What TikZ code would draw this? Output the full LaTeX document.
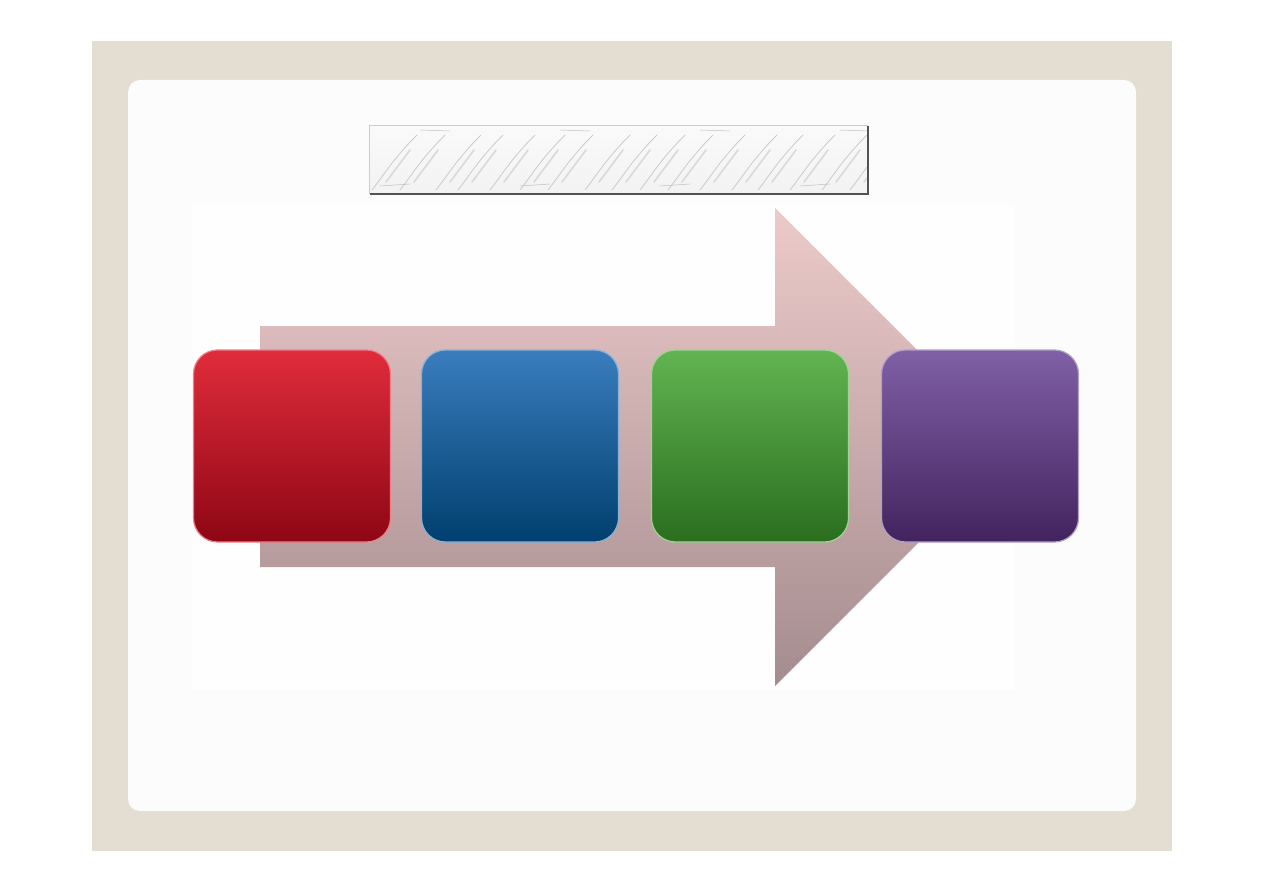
\documentclass[tikz,border=0pt]{standalone}
\usetikzlibrary{shadings}
\definecolor{beige}{HTML}{E4DDD2}
\definecolor{panel}{HTML}{FCFCFC}
\definecolor{region}{HTML}{FEFEFE}
\definecolor{arrtop}{HTML}{EDCACA}
\definecolor{arrbot}{HTML}{A48C8E}
\definecolor{rtop}{HTML}{E02C3C}
\definecolor{rbot}{HTML}{8E0614}
\definecolor{btop}{HTML}{3A7DBE}
\definecolor{bbot}{HTML}{003F6E}
\definecolor{gtop}{HTML}{62B452}
\definecolor{gbot}{HTML}{2A6E1E}
\definecolor{ptop}{HTML}{8060A6}
\definecolor{pbot}{HTML}{43235E}
\tikzset{
  x=1pt, y=-1pt,
  sq/.style={rectangle, rounded corners=24pt, minimum width=197pt, minimum height=192pt, inner sep=0pt, line width=1.2pt},
  vein/.style={gray!45, line width=0.7pt, line cap=round},
  vein2/.style={gray!30, line width=1.6pt, line cap=round},
}
\begin{document}
\begin{tikzpicture}
\useasboundingbox (0,0) rectangle (1263,893);
\fill[white] (0,0) rectangle (1263,893);
\fill[beige] (92,41) rectangle (1172,851);
\fill[panel, rounded corners=12pt] (128,80) rectangle (1136,811);
% faint background area
\fill[region] (192,205) rectangle (1015,690);
% marble title bar
\node (bar) [rectangle, minimum width=498pt, minimum height=68pt, inner sep=0pt,
  top color=gray!4, bottom color=gray!10]
  at (619,160) {};
\begin{scope}
\clip (bar.south west) rectangle (bar.north east);
\foreach \x in {372,400,436,458,490,520,548,585,612,640,668,700,732,758,790,822,850}{
  \draw[vein] (\x,190) .. controls (\x+12,175) and (\x+20,160) .. (\x+45,135);
  \draw[vein2] (\x+14,182) -- (\x+38,150);
}
\foreach \x in {380,520,660,800}{
  \draw[gray!50, line width=0.5pt] (\x,186) -- (\x+30,184) (\x+40,130) -- (\x+70,131);
}
\end{scope}
\draw[gray!40, line width=1pt] (bar.south west) -- (bar.north west) -- (bar.north east);
\draw[gray!65!black, line width=1.6pt] (bar.south west) -- (bar.south east) -- (bar.north east);
% big arrow
\shade[top color=arrtop, bottom color=arrbot]
  (260,326) -- (775,326) -- (775,208) -- (1014,447) -- (775,686) -- (775,567) -- (260,567) -- cycle;
% squares
\node (red) [sq, top color=rtop, bottom color=rbot, draw=rtop!60!white] at (292,446) {};
\node (blue) [sq, top color=btop, bottom color=bbot, draw=btop!60!white] at (520,446) {};
\node (green) [sq, top color=gtop, bottom color=gbot, draw=gtop!60!white] at (750,446) {};
\node (purple) [sq, top color=ptop, bottom color=pbot, draw=ptop!60!white] at (980,446) {};
\end{tikzpicture}
\end{document}
